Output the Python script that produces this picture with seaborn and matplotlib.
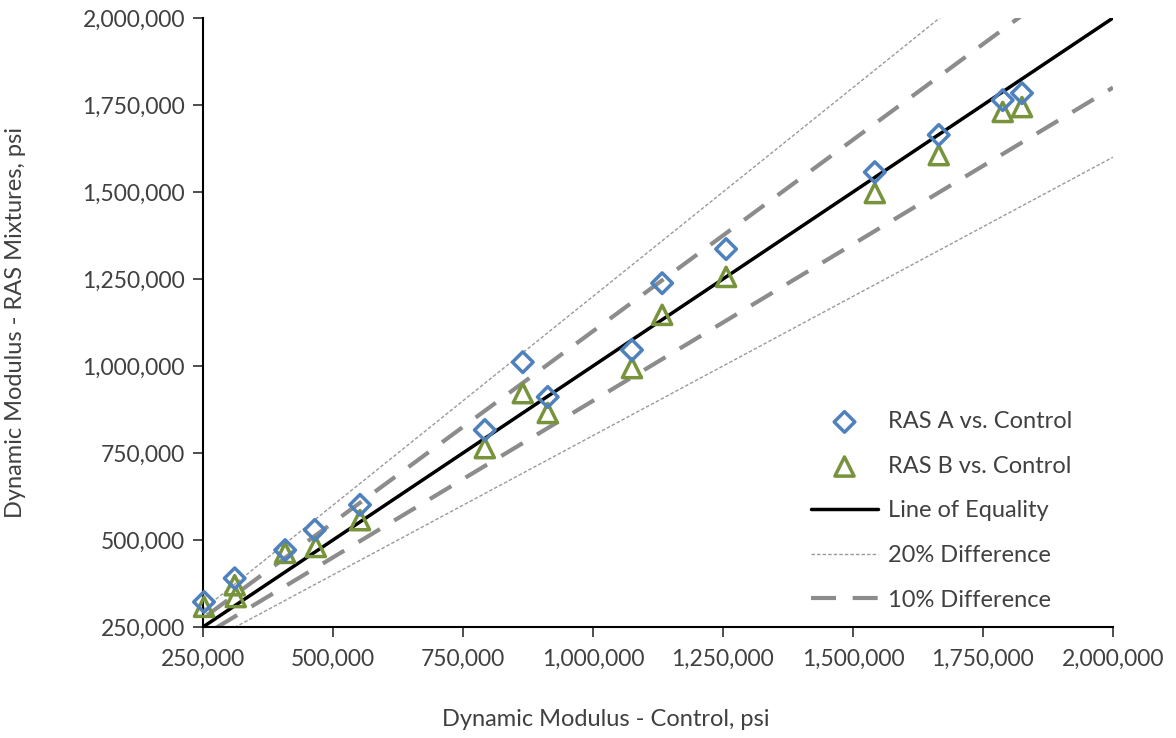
import numpy as np
import pandas as pd
import matplotlib.pyplot as plt
import seaborn as sns
from matplotlib.ticker import FuncFormatter

# dynamic modulus of the control mix, psi
control_a = [252000, 311000, 408000, 465000, 552000, 792000, 865000, 913000,
             1075000, 1133000, 1256000, 1542000, 1665000, 1788000, 1825000]
ras_a = [322000, 390000, 471000, 529000, 601000, 816000, 1011000, 911000,
         1046000, 1238000, 1336000, 1557000, 1664000, 1764000, 1784000]

control_b = [252000, 311000, 313000, 408000, 467000, 552000, 792000, 865000,
             913000, 1075000, 1133000, 1256000, 1542000, 1665000, 1788000, 1825000]
ras_b = [308000, 370000, 336000, 463000, 480000, 557000, 764000, 922000,
         865000, 994000, 1147000, 1256000, 1497000, 1606000, 1730000, 1744000]

# reference lines (ratio of RAS to control)
line_x = [0, 2000000]
ratio_equal = 1.0
ratio_10 = [1.1, 0.9]
ratio_20 = [1.2, 0.8]

tick_vals = [250000, 500000, 750000, 1000000, 1250000, 1500000, 1750000, 2000000]

sns.set_style("ticks")
plt.rcParams['font.family'] = ['Lato', 'DejaVu Sans']

fig = plt.figure(figsize=(11.76, 7.38), dpi=100)
ax = fig.add_axes([0.1726, 0.1504, 0.7738, 0.8252])

df_a = pd.DataFrame({"control": control_a, "ras": ras_a})
df_b = pd.DataFrame({"control": control_b, "ras": ras_b})

blue = "#4F81BD"
green = "#77933C"
grey = "#8C8C8C"
txt = "#404040"

# 20% lines (thin dotted)
for i, r in enumerate(ratio_20):
    sns.lineplot(x=line_x, y=[v * r for v in line_x], ax=ax, color="#9A9A9A",
                 linewidth=1.0, linestyle=(0, (2.5, 1.5)),
                 label="20% Difference" if i == 0 else None, zorder=1)
# 10% lines (thick dashed)
for i, r in enumerate(ratio_10):
    sns.lineplot(x=line_x, y=[v * r for v in line_x], ax=ax, color=grey,
                 linewidth=3.0, linestyle=(0, (6, 4)),
                 label="10% Difference" if i == 0 else None, zorder=1)
sns.lineplot(x=line_x, y=[v * ratio_equal for v in line_x], ax=ax, color="black",
             linewidth=2.5, label="Line of Equality", zorder=2)

sns.scatterplot(data=df_a, x="control", y="ras", ax=ax, marker="D", s=110,
                facecolor="none", edgecolor=blue, linewidth=2.5,
                label="RAS A vs. Control", zorder=4, clip_on=False)
sns.scatterplot(data=df_b, x="control", y="ras", ax=ax, marker="^", s=190,
                facecolor="none", edgecolor=green, linewidth=2.5,
                label="RAS B vs. Control", zorder=3, clip_on=False)

ax.set_xlim(250000, 2000000)
ax.set_ylim(250000, 2000000)
ax.set_xticks(tick_vals)
ax.set_yticks(tick_vals)
fmt = FuncFormatter(lambda v, p: f"{int(v):,}")
ax.xaxis.set_major_formatter(fmt)
ax.yaxis.set_major_formatter(fmt)
ax.tick_params(labelsize=16.5, colors=txt, length=7, width=1.3, pad=6)
ax.tick_params(axis="x", pad=9)
for s in ["top", "right"]:
    ax.spines[s].set_visible(False)
for s in ["left", "bottom"]:
    ax.spines[s].set_linewidth(1.5)
    ax.spines[s].set_color("black")

ax.set_xlabel("Dynamic Modulus - Control, psi", fontsize=17, color=txt)
ax.set_ylabel("Dynamic Modulus - RAS Mixtures, psi", fontsize=17, color=txt)
ax.xaxis.set_label_coords(0.443, -0.135)
ax.yaxis.set_label_coords(-0.195, 0.50)

handles, labels = ax.get_legend_handles_labels()
order = ["RAS A vs. Control", "RAS B vs. Control", "Line of Equality",
         "20% Difference", "10% Difference"]
hmap = dict(zip(labels, handles))
leg = ax.legend([hmap[k] for k in order], order, loc="lower left",
                bbox_to_anchor=(0.668, 0.027), frameon=False, fontsize=17,
                labelspacing=1.0, handlelength=2.85, handletextpad=0.4,
                borderaxespad=0, borderpad=0)
for t in leg.get_texts():
    t.set_color(txt)

fig.savefig("out.png", dpi=100)
